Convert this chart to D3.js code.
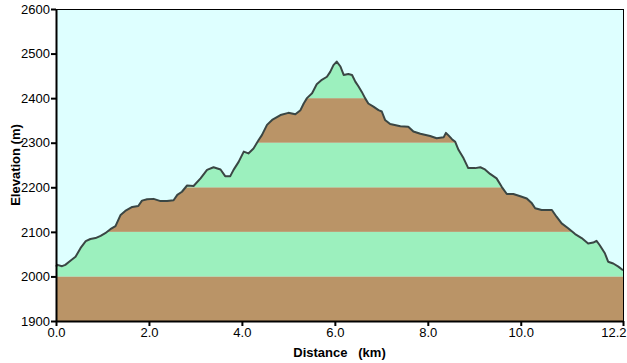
<!DOCTYPE html>
<html><head><meta charset="utf-8">
<script src="https://cdn.jsdelivr.net/npm/d3@7"></script>
<style>body{margin:0;background:#fff}svg{display:block}</style>
</head><body>
<script>
const dist = [0.00,0.03,0.13,0.20,0.31,0.42,0.53,0.64,0.74,0.85,0.96,1.06,1.17,1.28,1.39,1.49,1.64,1.77,1.85,1.96,2.10,2.25,2.39,2.53,2.61,2.71,2.82,2.96,3.11,3.25,3.39,3.54,3.64,3.75,3.82,3.93,4.04,4.14,4.25,4.36,4.43,4.54,4.65,4.83,5.00,5.15,5.26,5.33,5.40,5.51,5.61,5.72,5.83,5.90,5.97,6.04,6.12,6.19,6.29,6.37,6.44,6.51,6.58,6.65,6.72,6.83,6.94,7.01,7.08,7.19,7.41,7.58,7.69,7.84,8.05,8.19,8.34,8.39,8.44,8.52,8.59,8.66,8.77,8.87,9.02,9.13,9.23,9.34,9.48,9.59,9.70,9.84,9.99,10.13,10.24,10.31,10.45,10.67,10.77,10.88,11.02,11.17,11.31,11.45,11.56,11.63,11.70,11.81,11.88,11.99,12.10,12.20];
const elev = [2022,2026,2023,2026,2035,2044,2064,2079,2084,2086,2091,2097,2106,2113,2138,2147,2156,2158,2170,2173,2174,2169,2169,2171,2183,2190,2204,2203,2220,2239,2245,2240,2225,2225,2239,2257,2280,2276,2287,2306,2317,2340,2351,2362,2367,2364,2373,2388,2400,2411,2431,2441,2448,2459,2474,2482,2471,2452,2454,2452,2437,2426,2414,2400,2388,2381,2373,2370,2351,2342,2337,2336,2325,2320,2315,2310,2312,2322,2317,2308,2302,2284,2265,2243,2243,2245,2240,2230,2220,2201,2185,2185,2180,2175,2164,2153,2149,2149,2134,2119,2108,2095,2086,2074,2076,2080,2070,2052,2033,2029,2022,2014];
const xTicks = [0, 2, 4, 6, 8, 10, 12.2];
const yTicks = [1900, 2000, 2100, 2200, 2300, 2400, 2500, 2600];
const bandEdges = [1900, 2000, 2100, 2200, 2300, 2400, 2500];
const xTitle = "Distance   (km)";
const yTitle = "Elevation (m)";

const W = 627, H = 363;
const L = 56, R = 623, T = 9, B = 321;
const colBrown = "#BA9467", colGreen = "#9CF0BE", colSky = "#DEFFFF";

const svg = d3.select("body").append("svg").attr("width", W).attr("height", H);
const x = d3.scaleLinear().domain([0, 12.2]).range([L, R]);
const y = d3.scaleLinear().domain([1900, 2600]).range([B, T]);
const pts = dist.map((d, i) => [d, elev[i]]);

svg.append("rect").attr("x", L).attr("y", T).attr("width", R - L).attr("height", B - T).attr("fill", colSky);

const area = d3.area().x(d => x(d[0])).y0(y(1900)).y1(d => y(d[1]));
svg.append("clipPath").attr("id", "terrain").append("path").attr("d", area(pts));

const g = svg.append("g").attr("clip-path", "url(#terrain)");
g.selectAll("rect").data(bandEdges.slice(0, -1)).join("rect")
  .attr("x", L).attr("width", R - L)
  .attr("y", d => y(d + 100)).attr("height", d => y(d) - y(d + 100))
  .attr("fill", (d, i) => i % 2 === 0 ? colBrown : colGreen);

const line = d3.line().x(d => x(d[0])).y(d => y(d[1]));
svg.append("path").attr("d", line(pts)).attr("fill", "none")
  .attr("stroke", "#3A4644").attr("stroke-width", 2).attr("stroke-linejoin", "round");

// frame
svg.append("line").attr("x1", L).attr("x2", R).attr("y1", T + 0.5).attr("y2", T + 0.5).attr("stroke", "#000");
svg.append("line").attr("x1", R + 0.5).attr("x2", R + 0.5).attr("y1", T).attr("y2", B).attr("stroke", "#000");

const font = "'Liberation Sans Narrow', 'Liberation Sans', sans-serif";
const yAxis = d3.axisLeft(y).tickValues(yTicks).tickSize(5).tickSizeOuter(0).tickFormat(d3.format("d"));
const ya = svg.append("g").attr("transform", `translate(${L},0)`).call(yAxis);
const xAxis = d3.axisBottom(x).tickValues(xTicks).tickSize(5).tickSizeOuter(0).tickFormat(d3.format(".1f"));
const xa = svg.append("g").attr("transform", `translate(0,${B})`).call(xAxis);
[ya, xa].forEach(a => {
  a.select(".domain").attr("stroke", "#000").attr("stroke-width", 2);
  a.selectAll(".tick line").attr("stroke", "#000").attr("stroke-width", 2);
  a.selectAll(".tick text").attr("fill", "#000").style("font-family", font).style("font-size", "13px");
});
ya.selectAll(".tick text").attr("x", -6);
xa.selectAll(".tick text").attr("y", 7);
// keep the last x label inside the picture
xa.selectAll(".tick text").filter(d => d === 12.2).attr("text-anchor", "end").attr("x", W - 1 - R);

svg.append("text").attr("x", (L + R) / 2).attr("y", 357).attr("text-anchor", "middle")
  .style("font-family", "'Liberation Sans', Arial, sans-serif").style("font-weight", "bold").style("font-size", "13px")
  .style("white-space", "pre").text(xTitle);
svg.append("text").attr("transform", `translate(20,${(T + B) / 2}) rotate(-90)`).attr("text-anchor", "middle")
  .style("font-family", "'Liberation Sans', Arial, sans-serif").style("font-weight", "bold").style("font-size", "13px")
  .text(yTitle);
</script>
</body></html>
